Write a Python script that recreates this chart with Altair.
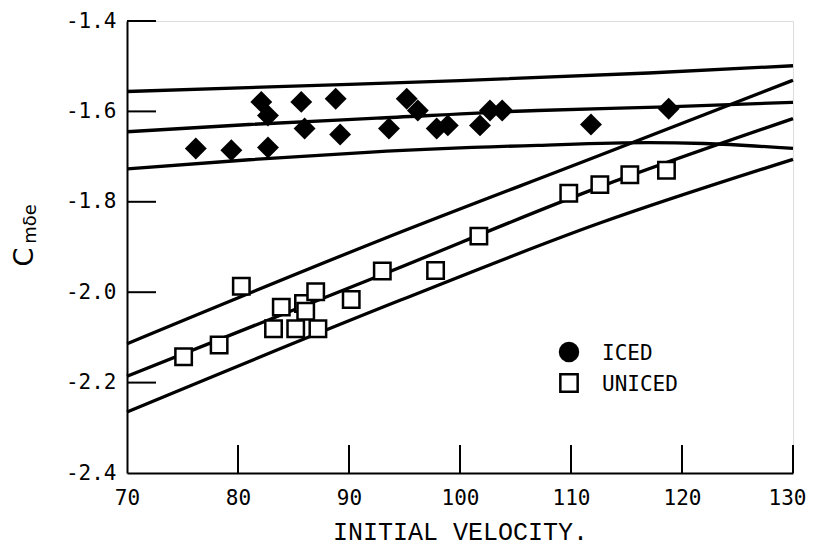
import altair as alt
import pandas as pd

# ---- data ----
ICED_V = [76.2, 79.4, 82.7, 82.1, 82.7, 85.7, 88.8, 86.0, 89.2, 95.2, 96.2, 93.6,
          97.9, 98.9, 101.8, 102.7, 103.8, 111.8, 118.8]
ICED_C = [-1.682, -1.686, -1.680, -1.579, -1.609, -1.579, -1.572, -1.638, -1.651,
          -1.572, -1.598, -1.638, -1.638, -1.631, -1.631, -1.598, -1.598, -1.629, -1.594]

UNICED_V = [75.1, 78.3, 80.3, 83.2, 83.9, 85.2, 85.9, 86.1, 87.0, 87.2, 90.2, 93.0,
            97.8, 101.7, 109.8, 112.6, 115.3, 118.6]
UNICED_C = [-2.143, -2.117, -1.987, -2.081, -2.033, -2.081, -2.025, -2.042, -1.999,
            -2.081, -2.016, -1.953, -1.952, -1.876, -1.781, -1.762, -1.740, -1.730]

ICED_UPPER_V = [70, 85, 100, 117, 130]
ICED_UPPER_C = [-1.556, -1.544, -1.532, -1.515, -1.499]
ICED_MID_V = [70, 81, 92.5, 107, 118.6, 130]
ICED_MID_C = [-1.645, -1.629, -1.615, -1.598, -1.590, -1.580]
ICED_LOW_V = [70, 81, 92, 107, 117, 122, 130]
ICED_LOW_C = [-1.727, -1.707, -1.690, -1.675, -1.669, -1.671, -1.682]

UNI_UPPER_V = [70, 92.8, 112.6, 130]
UNI_UPPER_C = [-2.114, -1.885, -1.697, -1.531]
UNI_MID_V = [70, 92.8, 112.6, 130]
UNI_MID_C = [-2.186, -1.963, -1.767, -1.616]
UNI_LOW_V = [70, 94.6, 112.6, 130]
UNI_LOW_C = [-2.265, -2.018, -1.847, -1.706]

X_LABELS = [70, 80, 90, 100, 110, 120, 130]
X_TICKS = [80, 90, 100, 110, 120, 130]
Y_LABELS = [-2.4, -2.2, -2.0, -1.8, -1.6, -1.4]
Y_TICKS = [-2.2, -2.0, -1.8, -1.6, -1.4]
LEGEND = ["ICED", "UNICED"]

W, H = 666, 452
FONT = "DejaVu Sans Mono"

iced = pd.DataFrame({"v": ICED_V, "c": ICED_C})
uniced = pd.DataFrame({"v": UNICED_V, "c": UNICED_C})
line_sets = [
    ("iu", ICED_UPPER_V, ICED_UPPER_C), ("im", ICED_MID_V, ICED_MID_C),
    ("il", ICED_LOW_V, ICED_LOW_C), ("uu", UNI_UPPER_V, UNI_UPPER_C),
    ("um", UNI_MID_V, UNI_MID_C), ("ul", UNI_LOW_V, UNI_LOW_C),
]
lines_df = pd.concat(
    [pd.DataFrame({"line": n, "v": xs, "c": ys}) for n, xs, ys in line_sets],
    ignore_index=True,
)

xsc = alt.Scale(domain=[70, 130], nice=False, zero=False)
ysc = alt.Scale(domain=[-2.4, -1.4], nice=False, zero=False)

x_axis = alt.Axis(
    values=X_LABELS, ticks=False, grid=False, domainWidth=2, domainColor="black",
    labelFont=FONT, labelFontSize=21, labelColor="black", labelPadding=14,
    labelFlush=False,
    labelOffset={"condition": {"test": "datum.value == 130", "value": -6}, "value": 0},
    title="INITIAL VELOCITY.", titleFont="Liberation Mono",
    titleFontSize=25, titleFontWeight="normal", titleColor="black", titlePadding=11,
)
y_axis = alt.Axis(
    values=Y_LABELS, ticks=False, grid=False, domainWidth=2, domainColor="black",
    labelFont=FONT, labelFontSize=21, labelColor="black", labelPadding=11,
    labelFlush=False, title=None,
    labelExpr="replace(format(datum.value, '.1f'), '\u2212', '-')",
)

lines = alt.Chart(lines_df).mark_line(
    color="black", strokeWidth=3.3, interpolate="monotone"
).encode(
    x=alt.X("v:Q", scale=xsc, axis=x_axis),
    y=alt.Y("c:Q", scale=ysc, axis=y_axis),
    detail="line:N",
    order="v:Q",
)

diamonds = alt.Chart(iced).mark_point(
    shape="diamond", filled=True, color="black", size=480, opacity=1
).encode(x=alt.X("v:Q", scale=xsc), y=alt.Y("c:Q", scale=ysc))

squares = alt.Chart(uniced).mark_point(
    shape="square", filled=True, fill="white", stroke="black", strokeWidth=2.5,
    size=270, opacity=1
).encode(x=alt.X("v:Q", scale=xsc), y=alt.Y("c:Q", scale=ysc))

xt = alt.Chart(pd.DataFrame({"v": X_TICKS})).mark_rule(color="black", strokeWidth=2).encode(
    x=alt.X("v:Q", scale=xsc), y=alt.value(H), y2=alt.value(H - 28)
)
yt = alt.Chart(pd.DataFrame({"c": Y_TICKS})).mark_rule(color="black", strokeWidth=2).encode(
    y=alt.Y("c:Q", scale=ysc), x=alt.value(0), x2=alt.value(29)
)

leg_df = pd.DataFrame({"label": LEGEND})
leg_circle = alt.Chart(leg_df).transform_filter("datum.label == 'ICED'").mark_point(
    shape="circle", filled=True, color="black", size=420, opacity=1
).encode(x=alt.value(442), y=alt.value(331))
leg_square = alt.Chart(leg_df).transform_filter("datum.label == 'UNICED'").mark_point(
    shape="square", filled=True, fill="white", stroke="black", strokeWidth=2.5,
    size=300, opacity=1
).encode(x=alt.value(442), y=alt.value(362))
leg_t1 = alt.Chart(leg_df).transform_filter("datum.label == 'ICED'").mark_text(
    font=FONT, fontSize=21, align="left", baseline="middle", color="black"
).encode(x=alt.value(475), y=alt.value(333), text="label:N")
leg_t2 = alt.Chart(leg_df).transform_filter("datum.label == 'UNICED'").mark_text(
    font=FONT, fontSize=21, align="left", baseline="middle", color="black"
).encode(x=alt.value(475), y=alt.value(364), text="label:N")

title_df = pd.DataFrame({"main": ["C"], "sub": ["m\u03b4e"]})
yt_main = alt.Chart(title_df).mark_text(
    font="DejaVu Sans", fontSize=27, angle=270, align="center",
    baseline="alphabetic", color="black"
).encode(x=alt.value(-94), y=alt.value(236), text="main:N")
yt_sub = alt.Chart(title_df).mark_text(
    font="DejaVu Sans", fontSize=18, angle=270, align="center",
    baseline="alphabetic", color="black"
).encode(x=alt.value(-91), y=alt.value(203), text="sub:N")

chart = alt.layer(
    lines, diamonds, squares, xt, yt, leg_circle, leg_square, leg_t1, leg_t2,
    yt_main, yt_sub,
).properties(
    width=W, height=H,
    autosize=alt.AutoSizeParams(type="none"),
    padding={"left": 119, "top": 13, "right": 14, "bottom": 75},
).configure_view(stroke=None).configure(background="white")

chart.save("out.html", embed_options={"renderer": "svg", "actions": False})
